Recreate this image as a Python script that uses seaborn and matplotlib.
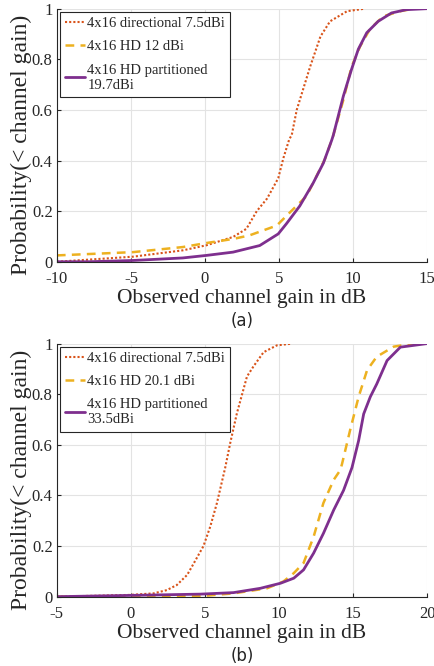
import matplotlib
matplotlib.use('Agg')
import matplotlib.pyplot as plt
import seaborn as sns
import pandas as pd

# ---- panel (a) ----
a_dir_x = [-10, -4.85, -1.5, 0.1, 1.9, 2.8, 3.5, 4.2, 4.95, 5.3, 5.7, 5.86, 6.2, 7.1, 7.8, 8.45, 9.6, 10.8]
a_dir_y = [0.0, 0.02, 0.045, 0.065, 0.098, 0.13, 0.2, 0.25, 0.33, 0.41, 0.485, 0.5, 0.6, 0.77, 0.89, 0.95, 0.99, 1.0]

a_hd_x = [-10, -4.85, -1.5, 0.1, 1.9, 3.0, 4.85, 5.74, 6.87, 7.55, 8.1, 8.56, 8.67, 9.35, 9.9, 10.47, 11.15, 12.05, 13.2, 14.1, 15]
a_hd_y = [0.025, 0.038, 0.058, 0.074, 0.09, 0.104, 0.143, 0.195, 0.26, 0.34, 0.405, 0.48, 0.5, 0.64, 0.77, 0.85, 0.92, 0.97, 0.99, 1.0, 1.0]

a_par_x = [-10, -7.8, -4.85, -1.5, 0.1, 1.9, 3.7, 4.95, 5.5, 6.4, 7.3, 8.0, 8.56, 8.67, 9.35, 9.9, 10.36, 10.93, 11.7, 12.6, 13.6, 15]
a_par_y = [0.0, 0.0, 0.005, 0.015, 0.025, 0.038, 0.064, 0.11, 0.15, 0.22, 0.31, 0.39, 0.48, 0.5, 0.655, 0.76, 0.84, 0.905, 0.95, 0.983, 0.996, 1.0]

a_labels = ['4x16 directional 7.5dBi', '4x16 HD 12 dBi', '4x16 HD partitioned\n19.7dBi']

# ---- panel (b) ----
b_dir_x = [-5, -0.05, 1.53, 2.43, 3.1, 3.8, 4.23, 4.9, 5.36, 5.81, 6.37, 6.7, 7.16, 7.84, 8.28, 8.96, 9.86, 10.88]
b_dir_y = [0.0, 0.007, 0.013, 0.026, 0.046, 0.086, 0.13, 0.2, 0.277, 0.37, 0.51, 0.605, 0.725, 0.87, 0.91, 0.966, 0.993, 1.0]

b_hd_x = [-5, 4.68, 6.93, 9.19, 10.3, 11.0, 11.66, 12.34, 13.0, 13.7, 14.14, 14.26, 14.8, 15.38, 15.95, 16.6, 17.75, 18.87, 20]
b_hd_y = [0.0, 0.002, 0.013, 0.033, 0.06, 0.093, 0.133, 0.237, 0.37, 0.462, 0.5, 0.525, 0.657, 0.79, 0.895, 0.948, 0.988, 0.998, 1.0]

b_par_x = [-5, -0.05, 4.68, 6.93, 8.74, 10.1, 11.0, 11.66, 12.34, 13.0, 13.7, 14.36, 14.93, 15.38, 15.72, 16.17, 16.6, 17.3, 18.2, 20]
b_par_y = [0.0, 0.005, 0.01, 0.016, 0.033, 0.053, 0.073, 0.106, 0.172, 0.25, 0.343, 0.42, 0.51, 0.617, 0.722, 0.79, 0.84, 0.933, 0.986, 1.0]

b_labels = ['4x16 directional 7.5dBi', '4x16 HD 20.1 dBi', '4x16 HD partitioned\n33.5dBi']

colors = ['#D95319', '#EDB120', '#7E2F8E']
styles = [(0, (1, 1)), (0, (3.5, 2.5)), '-']
widths = [1.5, 1.8, 2.0]

sns.set_style('whitegrid')
plt.rcParams['font.family'] = ['Liberation Serif', 'DejaVu Serif']
plt.rcParams['axes.unicode_minus'] = False


def draw_panel(ax, series, labels, xlim, xticks, caption):
    for (xs, ys), lab, c, ls, lw in zip(series, labels, colors, styles, widths):
        df = pd.DataFrame({'x': xs, 'y': ys})
        sns.lineplot(data=df, x='x', y='y', ax=ax, sort=False, estimator=None,
                     color=c, linestyle=ls, linewidth=lw, label=lab)
    ax.set_xlim(*xlim)
    ax.set_ylim(0, 1)
    ax.set_xticks(xticks)
    ax.set_yticks([0, 0.2, 0.4, 0.6, 0.8, 1])
    ax.set_yticklabels(['0', '0.2', '0.4', '0.6', '0.8', '1'])
    ax.grid(True, color='#e3e3e3', linewidth=0.8)
    for s in ['top', 'right']:
        ax.spines[s].set_visible(False)
    for s in ['left', 'bottom']:
        ax.spines[s].set_color('#262626')
        ax.spines[s].set_linewidth(0.8)
    ax.tick_params(direction='in', length=3, width=0.8, labelsize=12,
                   colors='#262626', pad=3, left=True, bottom=True)
    ax.tick_params(axis='x', pad=7)
    ax.set_xlabel('Observed channel gain in dB', fontsize=15.5, color='#262626', labelpad=1)
    ax.set_ylabel('Probability(< channel gain)', fontsize=17, color='#262626', labelpad=0)
    ax.yaxis.label.set_y(0.46)
    leg = ax.legend(loc='upper left', fontsize=10.5, frameon=True, fancybox=False,
                    edgecolor='#262626', framealpha=1, handlelength=1.4,
                    handletextpad=0.15, borderpad=0.35, labelspacing=0.7,
                    borderaxespad=0.2)
    leg.get_frame().set_linewidth(0.8)
    ax.text(0.5, -0.2, caption, transform=ax.transAxes, ha='center', va='top',
            fontsize=12, family='DejaVu Sans', color='#262626')


fig = plt.figure(figsize=(4.34, 6.66), dpi=100)
ax1 = fig.add_axes([0.131, 0.607, 0.853, 0.380])
ax2 = fig.add_axes([0.131, 0.1041, 0.853, 0.380])

draw_panel(ax1, [(a_dir_x, a_dir_y), (a_hd_x, a_hd_y), (a_par_x, a_par_y)],
           a_labels, (-10, 15), [-10, -5, 0, 5, 10, 15], '(a)')
draw_panel(ax2, [(b_dir_x, b_dir_y), (b_hd_x, b_hd_y), (b_par_x, b_par_y)],
           b_labels, (-5, 20), [-5, 0, 5, 10, 15, 20], '(b)')

fig.savefig('out.png', dpi=100)
